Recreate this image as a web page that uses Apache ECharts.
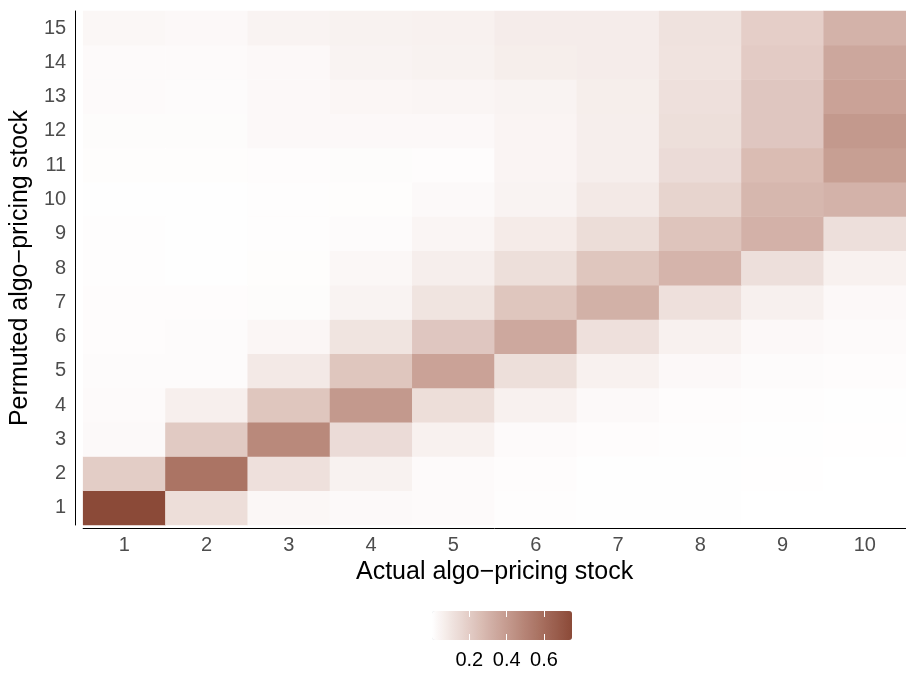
<!DOCTYPE html>
<html>
<head>
<meta charset="utf-8">
<script src="https://cdn.jsdelivr.net/npm/echarts@6/dist/echarts.min.js"></script>
<style>
  html, body { margin: 0; padding: 0; background: #fff; }
  #main { width: 906px; height: 673px; }
</style>
</head>
<body>
<div id="main"></div>
<script>
// axes
const actualStock = ['1', '2', '3', '4', '5', '6', '7', '8', '9', '10'];
const permutedStock = ['1', '2', '3', '4', '5', '6', '7', '8', '9', '10', '11', '12', '13', '14', '15'];

// share per cell, one row per permuted stock (row 1 first), columns = actual stock 1..10
const shareRows = [
  [0.750, 0.131, 0.030, 0.022, 0.018, 0.007, 0.004, 0.004, 0.001, 0.001],
  [0.197, 0.565, 0.120, 0.050, 0.018, 0.010, 0.004, 0.004, 0.002, 0.001],
  [0.022, 0.210, 0.476, 0.140, 0.054, 0.018, 0.010, 0.007, 0.004, 0.003],
  [0.018, 0.062, 0.227, 0.410, 0.131, 0.054, 0.022, 0.010, 0.007, 0.004],
  [0.014, 0.014, 0.085, 0.227, 0.370, 0.127, 0.054, 0.025, 0.014, 0.010],
  [0.010, 0.014, 0.033, 0.104, 0.223, 0.345, 0.120, 0.054, 0.025, 0.018],
  [0.010, 0.010, 0.012, 0.045, 0.104, 0.227, 0.310, 0.120, 0.058, 0.025],
  [0.007, 0.004, 0.009, 0.030, 0.065, 0.127, 0.227, 0.296, 0.124, 0.054],
  [0.007, 0.004, 0.006, 0.014, 0.036, 0.077, 0.135, 0.235, 0.308, 0.124],
  [0.004, 0.004, 0.006, 0.009, 0.022, 0.045, 0.085, 0.170, 0.285, 0.305],
  [0.009, 0.009, 0.010, 0.012, 0.010, 0.040, 0.065, 0.140, 0.265, 0.385],
  [0.012, 0.012, 0.025, 0.025, 0.025, 0.040, 0.065, 0.127, 0.223, 0.410],
  [0.018, 0.014, 0.025, 0.033, 0.036, 0.045, 0.068, 0.120, 0.223, 0.370],
  [0.018, 0.018, 0.025, 0.045, 0.050, 0.068, 0.073, 0.108, 0.203, 0.350],
  [0.030, 0.025, 0.045, 0.050, 0.054, 0.073, 0.073, 0.112, 0.190, 0.305]
];

// colourbar
const shareMin = 0;
const shareMax = 0.75;
const legendTicks = [0.2, 0.4, 0.6];

const lowColor = '#FFFFFF';
const highColor = '#8B4A38';
const FONT = 'Liberation Sans, Arial, sans-serif';

// gradient in Lab space, like ggplot does it
function toLin(c) { c /= 255; return c <= 0.04045 ? c / 12.92 : Math.pow((c + 0.055) / 1.055, 2.4); }
function toByte(c) {
  const v = c <= 0.0031308 ? 12.92 * c : 1.055 * Math.pow(c, 1 / 2.4) - 0.055;
  return Math.round(Math.max(0, Math.min(1, v)) * 255);
}
function hexToLab(hex) {
  const r = toLin(parseInt(hex.slice(1, 3), 16));
  const g = toLin(parseInt(hex.slice(3, 5), 16));
  const b = toLin(parseInt(hex.slice(5, 7), 16));
  const X = (0.4124 * r + 0.3576 * g + 0.1805 * b) / 0.95047;
  const Y = 0.2126 * r + 0.7152 * g + 0.0722 * b;
  const Z = (0.0193 * r + 0.1192 * g + 0.9505 * b) / 1.08883;
  const f = t => t > 0.008856 ? Math.cbrt(t) : 7.787 * t + 16 / 116;
  return [116 * f(Y) - 16, 500 * (f(X) - f(Y)), 200 * (f(Y) - f(Z))];
}
function labToHex(L, a, bb) {
  const fy = (L + 16) / 116, fx = fy + a / 500, fz = fy - bb / 200;
  const inv = t => t * t * t > 0.008856 ? t * t * t : (t - 16 / 116) / 7.787;
  const X = inv(fx) * 0.95047, Y = inv(fy), Z = inv(fz) * 1.08883;
  const r = toByte(3.2406 * X - 1.5372 * Y - 0.4986 * Z);
  const g = toByte(-0.9689 * X + 1.8758 * Y + 0.0415 * Z);
  const b = toByte(0.0557 * X - 0.2040 * Y + 1.0570 * Z);
  return '#' + [r, g, b].map(v => v.toString(16).padStart(2, '0')).join('');
}
const lab0 = hexToLab(lowColor), lab1 = hexToLab(highColor);
const gradient = [];
for (let i = 0; i <= 20; i++) {
  const t = i / 20;
  gradient.push(labToHex(
    lab0[0] + (lab1[0] - lab0[0]) * t,
    lab0[1] + (lab1[1] - lab0[1]) * t,
    lab0[2] + (lab1[2] - lab0[2]) * t));
}

const cells = [];
shareRows.forEach((row, r) => {
  row.forEach((v, c) => cells.push([c, r, v]));
});

const chart = echarts.init(document.getElementById('main'));
chart.setOption({
  animation: false,
  textStyle: { fontFamily: FONT },
  grid: [
    { left: 82, top: 11, width: 826, height: 514 },
    { left: 432, top: 611, width: 140, height: 29 }
  ],
  xAxis: [
    {
      type: 'category',
      gridIndex: 0,
      data: actualStock,
      offset: 3,
      axisLine: { lineStyle: { color: '#000', width: 1 } },
      axisTick: { alignWithLabel: true, length: 5, lineStyle: { color: '#333' } },
      axisLabel: { color: '#4D4D4D', fontSize: 20, margin: 7, fontFamily: FONT },
      splitLine: { show: false },
      name: 'Actual algo\u2212pricing stock',
      nameLocation: 'middle',
      nameGap: 31,
      nameTextStyle: { color: '#000', fontSize: 25, fontFamily: FONT }
    },
    {
      type: 'value',
      gridIndex: 1,
      min: shareMin,
      max: shareMax,
      interval: 0.2,
      z: 10,
      axisLine: { show: false },
      axisTick: { inside: true, length: 6, customValues: legendTicks, lineStyle: { color: '#fff', width: 1 } },
      axisLabel: { customValues: legendTicks, formatter: v => v.toFixed(1), color: '#000', fontSize: 20, margin: 10, fontFamily: FONT },
      splitLine: { show: false }
    },
    {
      type: 'value',
      gridIndex: 1,
      position: 'top',
      min: shareMin,
      max: shareMax,
      interval: 0.2,
      z: 10,
      axisLine: { show: false },
      axisTick: { inside: true, length: 6, customValues: legendTicks, lineStyle: { color: '#fff', width: 1 } },
      axisLabel: { show: false },
      splitLine: { show: false }
    }
  ],
  yAxis: [
    {
      type: 'category',
      gridIndex: 0,
      data: permutedStock,
      offset: 8,
      axisLine: { lineStyle: { color: '#000', width: 1 } },
      axisTick: { alignWithLabel: true, length: 5, lineStyle: { color: '#333' } },
      axisLabel: { color: '#4D4D4D', fontSize: 20, margin: 9, fontFamily: FONT },
      splitLine: { show: false },
      name: 'Permuted algo\u2212pricing stock',
      nameLocation: 'middle',
      nameGap: 37,
      nameTextStyle: { color: '#000', fontSize: 25, fontFamily: FONT }
    },
    { type: 'value', gridIndex: 1, show: false }
  ],
  visualMap: {
    type: 'continuous',
    seriesIndex: 0,
    min: shareMin,
    max: shareMax,
    orient: 'horizontal',
    left: 432,
    top: 611,
    padding: 0,
    itemWidth: 29,
    itemHeight: 140,
    calculable: false,
    hoverLink: false,
    inRange: { color: gradient }
  },
  series: [{
    type: 'heatmap',
    xAxisIndex: 0,
    yAxisIndex: 0,
    data: cells,
    itemStyle: { borderWidth: 0 },
    emphasis: { disabled: true }
  }]
});
</script>
</body>
</html>
